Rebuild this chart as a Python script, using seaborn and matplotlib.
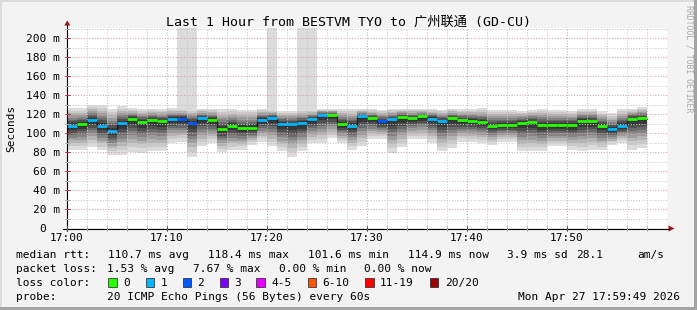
import numpy as np
import pandas as pd
import matplotlib
matplotlib.use("Agg")
import matplotlib.pyplot as plt
import seaborn as sns
from matplotlib.patches import Rectangle, Polygon
from matplotlib.lines import Line2D

# ---------------- data ----------------
# one step per minute after 17:00
step_minute = list(range(58))
median_ms = [107.0, 108.8, 113.3, 107.0, 101.6, 109.8, 114.4, 110.9, 113.0, 111.6,
             114.4, 114.4, 110.2, 115.0, 113.3, 103.7, 107.0, 104.6, 104.6, 113.3,
             115.2, 108.8, 108.4, 109.6, 113.7, 118.4, 118.4, 108.8, 107.2, 117.0,
             114.7, 111.6, 113.7, 116.1, 115.0, 117.0, 114.5, 111.9, 115.0, 112.6,
             111.9, 110.5, 107.0, 108.0, 108.0, 109.8, 110.8, 108.0, 107.6, 107.6,
             108.0, 111.9, 111.8, 107.2, 103.2, 107.2, 114.4, 114.9]
lost_pings = [1, 0, 1, 1, 1, 1, 0, 0, 0, 0,
              1, 2, 2, 1, 0, 0, 0, 0, 0, 1,
              1, 1, 1, 1, 1, 1, 0, 0, 1, 1,
              0, 2, 1, 0, 0, 0, 1, 1, 0, 0,
              0, 0, 0, 0, 0, 0, 0, 0, 0, 0,
              0, 0, 0, 0, 1, 1, 0, 0]
smoke_hi = [126.3, 126.0, 130.0, 130.0, 125.6, 128.0, 126.0, 125.6, 125.6, 125.6,
            126.0, 126.0, 126.0, 125.6, 125.6, 125.6, 125.6, 124.6, 124.6, 125.6,
            125.0, 123.5, 123.5, 125.0, 125.0, 125.6, 125.6, 125.6, 125.6, 125.6,
            125.6, 124.6, 125.6, 125.6, 125.6, 125.6, 125.6, 124.6, 125.6, 125.6,
            125.6, 126.3, 124.6, 124.6, 124.6, 123.5, 124.6, 125.6, 124.6, 124.6,
            123.5, 125.6, 125.6, 122.8, 121.0, 125.6, 125.6, 127.4]
smoke_lo = [82.5, 82.5, 85.0, 82.0, 77.0, 77.0, 80.0, 79.0, 80.7, 80.7,
            90.0, 91.0, 75.0, 86.0, 90.0, 80.0, 82.0, 82.5, 87.7, 91.0,
            86.0, 80.7, 74.7, 80.7, 89.5, 89.5, 94.7, 89.5, 82.5, 86.0,
            93.7, 93.7, 79.0, 85.0, 93.7, 93.7, 90.0, 80.7, 84.0, 91.0,
            91.0, 90.0, 87.7, 91.0, 91.0, 80.7, 80.7, 80.7, 86.0, 86.0,
            82.5, 80.7, 82.5, 82.0, 87.7, 89.5, 82.0, 84.0]
# steps whose slowest ping is off the top of the chart (estimated)
spike_max = {11: 260.0, 12: 260.0, 20: 260.0, 23: 260.0, 24: 260.0}

x_tick_minutes = [0, 10, 20, 30, 40, 50]
x_tick_labels = ["17:00", "17:10", "17:20", "17:30", "17:40", "17:50"]
y_tick_values = [0, 20, 40, 60, 80, 100, 120, 140, 160, 180, 200]
y_tick_labels = ["0", "20 m", "40 m", "60 m", "80 m", "100 m", "120 m", "140 m",
                 "160 m", "180 m", "200 m"]

loss_names = ["0", "1", "2", "3", "4-5", "6-10", "11-19", "20/20"]
loss_colors = ["#26ff00", "#00b8ff", "#0059ff", "#7e00ff", "#e800ff",
               "#ff5500", "#ff0000", "#a10000"]

title = "Last 1 Hour from BESTVM TYO to 广州联通 (GD-CU)"
rtt_items = ["110.7 ms avg", "118.4 ms max", "101.6 ms min", "114.9 ms now",
             "3.9 ms sd", "28.1", "am/s"]
loss_items = ["1.53 % avg", "7.67 % max", "0.00 % min", "0.00 % now"]
probe_text = "20 ICMP Echo Pings (56 Bytes) every 60s"
stamp_text = "Mon Apr 27 17:59:49 2026"

# ---------------- layout ----------------
W, H = 697, 310
sns.set_theme(style="white")
FAM = ["DejaVu Sans Mono", "Noto Sans CJK SC"]
plt.rcParams["font.family"] = FAM
plt.rcParams["text.color"] = "black"

fig = plt.figure(figsize=(W / 100, H / 100), dpi=100, facecolor="#f3f3f3")


def fx(x):
    return x / W


def fy(y):
    return 1 - y / H


PX0, PX1 = 67, 667       # 0 .. 60 minutes
PY0, PY1 = 228, 28       # 0 .. top
PPM = 0.95               # pixels per ms
ax = fig.add_axes([fx(PX0), fy(PY0), (PX1 - PX0) / W, (PY0 - PY1) / H])
ax.set_facecolor("white")
ax.set_xlim(0, 60)
ax.set_ylim(0, (PY0 - PY1) / PPM)
for s in ax.spines.values():
    s.set_visible(False)
ax.set_xticks([])
ax.set_yticks([])

# ---------------- smoke ----------------
edges = np.arange(len(step_minute) + 1)
med = np.array(median_ms)
hi = np.array(smoke_hi)
lo = np.array(smoke_lo)
outer_top = hi.copy()
for i, v in spike_max.items():
    outer_top[i] = v

fracs = [1.0, 0.85, 0.72, 0.60, 0.48, 0.37, 0.27, 0.17]
greys = ["#dcdcdc", "#cacaca", "#b4b4b4", "#9c9c9c", "#838383", "#6a6a6a",
         "#505050", "#383838"]
for k, (f, c) in enumerate(zip(fracs, greys)):
    top = outer_top if k == 0 else med + (hi - med) * f
    bot = med - (med - lo) * f
    ax.fill_between(edges, np.append(bot, bot[-1]), np.append(top, top[-1]),
                    step="post", color=c, lw=0, zorder=1, antialiased=False)

# ---------------- grid ----------------
dot = (0, (1, 1.6))
for v in range(10, 211, 10):
    col = "#dba0a0" if v % 20 == 0 else "#c8c8c8"
    ax.axhline(v, color=col, lw=0.75, ls=dot, zorder=2)
for m in range(2, 60, 2):
    col = "#dba0a0" if m % 10 == 0 else "#c8c8c8"
    ax.axvline(m, color=col, lw=0.75, ls=dot, zorder=2)

# ---------------- median line ----------------
med_df = pd.DataFrame({"minute": edges, "median": np.append(med, med[-1])})
sns.lineplot(data=med_df, x="minute", y="median", drawstyle="steps-post",
             color="#1a1a1a", lw=0.9, ax=ax, zorder=3, legend=False)
ax.set_xlabel("")
ax.set_ylabel("")
ax.set_xticks([])
ax.set_yticks([])
seg_cols = [loss_colors[min(l, 7) if l < 4 else 4] for l in lost_pings]
ax.hlines(med + 0.6, edges[:-1], edges[1:], colors=seg_cols, lw=2.0, zorder=4)

# ---------------- axes lines, ticks and arrows ----------------
axis_col = "#000000"
arrow_col = "#a01515"
fig.add_artist(Line2D([fx(63), fx(669)], [fy(228.5), fy(228.5)], color=axis_col, lw=0.8))
fig.add_artist(Line2D([fx(67.3), fx(67.3)], [fy(231), fy(25)], color=axis_col, lw=0.8))
fig.add_artist(Polygon([(fx(668.5), fy(225.5)), (fx(668.5), fy(231.5)), (fx(674.5), fy(228.5))],
                       closed=True, color=arrow_col, lw=0))
fig.add_artist(Polygon([(fx(64.3), fy(25.5)), (fx(70.3), fy(25.5)), (fx(67.3), fy(20.5))],
                       closed=True, color=arrow_col, lw=0))
for m in range(0, 60, 2):
    xp = PX0 + m * 10
    col = "#c03030" if m % 10 == 0 else "#b0b0b0"
    fig.add_artist(Line2D([fx(xp), fx(xp)], [fy(226), fy(231)], color=col, lw=0.7))
for v in range(10, 211, 10):
    yp = PY0 - v * PPM
    col = "#c03030" if v % 20 == 0 else "#b0b0b0"
    fig.add_artist(Line2D([fx(64.5), fx(69.5)], [fy(yp), fy(yp)], color=col, lw=0.7))

# ---------------- tick labels ----------------
FS = 8.0
for m, lab in zip(x_tick_minutes, x_tick_labels):
    fig.text(fx(PX0 + m * 10), fy(241), lab, ha="center", va="baseline", fontsize=FS)
for v, lab in zip(y_tick_values, y_tick_labels):
    yp = PY0 - v * PPM
    xr = 60 if v > 0 else 46.5
    fig.text(fx(xr), fy(yp + 3.8), lab, ha="right", va="baseline", fontsize=FS)

fig.text(fx(11), fy(128), "Seconds", rotation=90, ha="center", va="center", fontsize=FS)
fig.text(fx(348.5), fy(25.5), title, ha="center", va="baseline", fontsize=9.5, family=FAM)
fig.text(fx(688.5), fy(5), "RRDTOOL / TOBI OETIKER", rotation=270, ha="center",
         va="top", fontsize=5.9, color="#a8a8a8")

# ---------------- legend block ----------------
rows = [258.3, 272.2, 286.0, 299.8]
fig.text(fx(16), fy(rows[0]), "median rtt:", ha="left", va="baseline", fontsize=FS)
for xp, t in zip([107.6, 207.6, 307.6, 407.6, 506.7, 576.4, 636.9], rtt_items):
    fig.text(fx(xp), fy(rows[0]), t, ha="left", va="baseline", fontsize=FS)
fig.text(fx(16), fy(rows[1]), "packet loss:", ha="left", va="baseline", fontsize=FS)
for xp, t in zip([107.3, 193.5, 279.1, 364.4], loss_items):
    fig.text(fx(xp), fy(rows[1]), t, ha="left", va="baseline", fontsize=FS)
fig.text(fx(16), fy(rows[2]), "loss color:", ha="left", va="baseline", fontsize=FS)
sw_x = [108.3, 145.7, 182.5, 219.6, 256.4, 307.6, 365.3, 430.0]
lab_x = [123.3, 160.3, 197.0, 234.0, 271.0, 322.0, 380.0, 445.0]
for sx, lx, name, c in zip(sw_x, lab_x, loss_names, loss_colors):
    fig.add_artist(Rectangle((fx(sx), fy(287)), 8.4 / W, 8.6 / H, facecolor=c,
                             edgecolor="#202020", lw=0.5))
    fig.text(fx(lx), fy(rows[2]), name, ha="left", va="baseline", fontsize=FS)
fig.text(fx(16), fy(rows[3]), "probe:", ha="left", va="baseline", fontsize=FS)
fig.text(fx(107.3), fy(rows[3]), probe_text, ha="left", va="baseline", fontsize=FS)
fig.text(fx(680), fy(rows[3]), stamp_text, ha="right", va="baseline", fontsize=FS)

# ---------------- frame ----------------
fig.add_artist(Rectangle((0, fy(2)), 1, 2 / H, facecolor="#dcdcdc", lw=0))
fig.add_artist(Rectangle((0, 0), 2 / W, 1, facecolor="#dcdcdc", lw=0))
fig.add_artist(Rectangle((0, 0), 1, 3 / H, facecolor="#a3a3a3", lw=0))
fig.add_artist(Rectangle((fx(694), 0), 3 / W, 1, facecolor="#a3a3a3", lw=0))

fig.savefig("out.png", dpi=100, facecolor=fig.get_facecolor())
